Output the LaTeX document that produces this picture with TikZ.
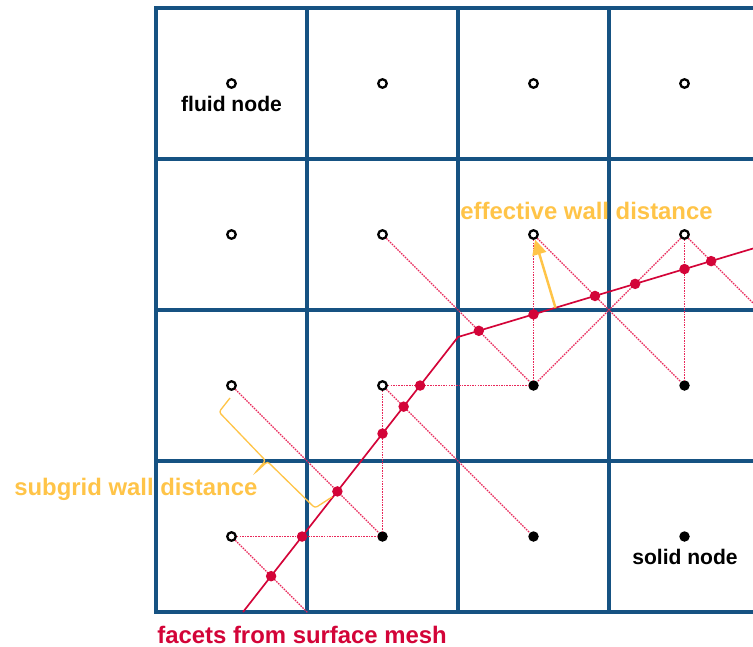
\documentclass[tikz,border=0pt]{standalone}
\usepackage{fontspec}
\setmainfont{Liberation Sans}
\usetikzlibrary{calc,arrows.meta}
\definecolor{gridblue}{RGB}{22,82,130}
\definecolor{wallred}{RGB}{211,4,56}
\definecolor{linkred}{RGB}{232,40,90}
\definecolor{gold}{RGB}{255,196,72}
\begin{document}
\begin{tikzpicture}[x=0.02cm,y=-0.02cm,
  gridline/.style={gridblue,line width=1.95pt,line cap=rect},
  fluidnode/.style={circle,draw=black,fill=white,line width=1.3pt,inner sep=0pt,minimum size=0.17cm},
  solidnode/.style={circle,fill=black,inner sep=0pt,minimum size=0.21cm},
  wdot/.style={circle,fill=wallred,inner sep=0pt,minimum size=0.21cm},
  link/.style={linkred,line width=0.75pt,dash pattern=on 0.9pt off 0.6pt},
  surface/.style={wallred,line width=0.95pt},
  effarrow/.style={gold,line width=1.4pt,-{Triangle[length=8.5pt,width=8pt]}},
  bracestyle/.style={gold,line width=0.75pt,rounded corners=1.5pt},
  lbl/.style={inner sep=0pt,font=\bfseries\fontsize{12}{14}\selectfont},
  biglbl/.style={inner sep=0pt,font=\bfseries\fontsize{13.6}{16}\selectfont},
]
\useasboundingbox (0,0) rectangle (753,646);
\clip (0,0) rectangle (753,646);
% grid
\foreach \x in {156,307,458,609} \draw[gridline] (\x,8) -- (\x,612);
\foreach \y in {8,159,310,461,612} \draw[gridline] (156,\y) -- (770,\y);
% lattice nodes
\node[fluidnode] (n00) at (231.5,536.5) {};
\node[fluidnode] (n01) at (231.5,385.5) {};
\node[fluidnode] (n02) at (231.5,234.5) {};
\node[fluidnode] (n03) at (231.5,83.5) {};
\node[solidnode] (n10) at (382.5,536.5) {};
\node[fluidnode] (n11) at (382.5,385.5) {};
\node[fluidnode] (n12) at (382.5,234.5) {};
\node[fluidnode] (n13) at (382.5,83.5) {};
\node[solidnode] (n20) at (533.5,536.5) {};
\node[solidnode] (n21) at (533.5,385.5) {};
\node[fluidnode] (n22) at (533.5,234.5) {};
\node[fluidnode] (n23) at (533.5,83.5) {};
\node[solidnode] (n30) at (684.5,536.5) {};
\node[solidnode] (n31) at (684.5,385.5) {};
\node[fluidnode] (n32) at (684.5,234.5) {};
\node[fluidnode] (n33) at (684.5,83.5) {};
\coordinate (e1) at (307.5,612.5);
\coordinate (e2) at (835.5,385.5);
% links crossing the wall
\draw[link] (n00) -- (n10);
\draw[link] (n00) -- (e1);
\draw[link] (n01) -- (n10);
\draw[link] (n11) -- (n10);
\draw[link] (n11) -- (n20);
\draw[link] (n11) -- (n21);
\draw[link] (n12) -- (n21);
\draw[link] (n22) -- (n21);
\draw[link] (n22) -- (n31);
\draw[link] (n32) -- (n21);
\draw[link] (n32) -- (n31);
\draw[link] (n32) -- (e2);
% surface facets
\coordinate (S0) at (243,612);
\coordinate (S1) at (458,337);
\coordinate (S2) at (800,234.4);
\draw[surface] (S0) -- (S1) -- (S2);
% intersection points
\node[wdot] (d1) at (intersection of n00.center--n10.center and S0--S1) {};
\node[wdot] (d2) at (intersection of n00.center--e1 and S0--S1) {};
\node[wdot] (d3) at (intersection of n01.center--n10.center and S0--S1) {};
\node[wdot] (d4) at (intersection of n11.center--n10.center and S0--S1) {};
\node[wdot] (d5) at (intersection of n11.center--n20.center and S0--S1) {};
\node[wdot] (d6) at (intersection of n11.center--n21.center and S0--S1) {};
\node[wdot] (d7) at (intersection of n12.center--n21.center and S1--S2) {};
\node[wdot] (d8) at (intersection of n22.center--n21.center and S1--S2) {};
\node[wdot] (d9) at (intersection of n22.center--n31.center and S1--S2) {};
\node[wdot] (d10) at (intersection of n32.center--n21.center and S1--S2) {};
\node[wdot] (d11) at (intersection of n32.center--n31.center and S1--S2) {};
\node[wdot] (d12) at (intersection of n32.center--e2 and S1--S2) {};
% effective wall distance arrow
\coordinate (F) at ($(S1)!(n22.center)!(S2)$);
\draw[effarrow] (F) -- (n22);
% subgrid wall distance brace
\draw[bracestyle] (230,398) -- (219,412) -- (265.5,460.5) -- (255,473) -- (267.5,461.5) -- (315,508) -- (332,497);
% labels
\node[lbl,anchor=base] (lf) at (231.5,111) {fluid node};
\node[lbl,anchor=base] (ls) at (685,564) {solid node};
\node[biglbl,text=gold,anchor=base west] (le) at (460,219) {effective wall distance};
\node[biglbl,text=gold,anchor=base west] (lsub) at (14,495) {subgrid wall distance};
\node[biglbl,text=wallred,anchor=base west] (lfac) at (157,643) {facets from surface mesh};
\end{tikzpicture}
\end{document}
